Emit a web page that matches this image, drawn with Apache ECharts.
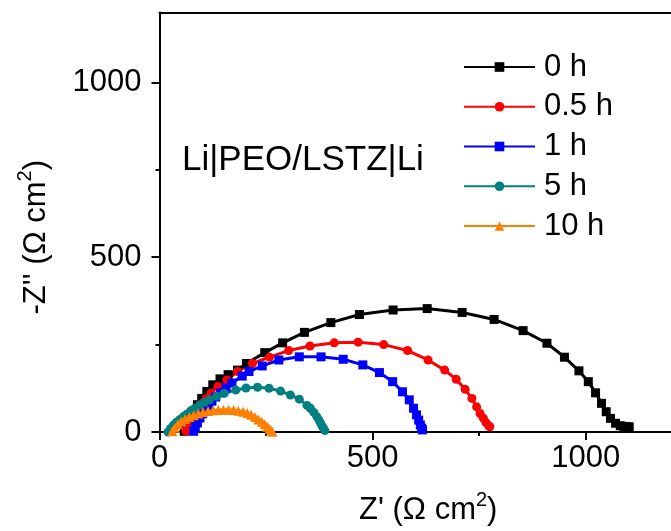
<!DOCTYPE html>
<html>
<head>
<meta charset="utf-8">
<script src="https://cdn.jsdelivr.net/npm/echarts@6/dist/echarts.min.js"></script>
<style>html,body{margin:0;padding:0;background:#fff;}#c{width:671px;height:531px;}</style>
</head>
<body>
<div id="c"></div>
<script>
const seriesNames = ['0 h', '0.5 h', '1 h', '5 h', '10 h'];
const h0 = [[58,2],[62,14],[67,28],[73,44],[80,60],[89,78],[99,96],[111,116],[125,135],[142,152],[161,164],[183,177],[204,196],[247,227],[289,255],[340,285],[402,313],[469,336],[548,349],[628,353],[710,342],[785,322],[853,290],[909,254],[950,214],[984,175],[1006,144],[1023,112],[1037,82],[1048,58],[1058,39],[1070,25],[1081,18],[1089,16],[1096,15],[1102,15]];
const h05 = [[62,2],[66,14],[71,26],[77,40],[84,54],[92,68],[100,82],[109,95],[121,111],[137,130],[158,149],[183,173],[218,196],[258,214],[303,233],[353,246],[410,255],[466,257],[526,250],[582,233],[630,206],[669,177],[696,151],[717,122],[733,96],[744,72],[752,53],[760,39],[766,27],[772,18],[775,15]];
const h1 = [[80,2],[84,14],[89,26],[95,40],[101,52],[108,65],[115,76],[123,88],[132,100],[143,112],[156,126],[170,140],[194,160],[210,173],[241,189],[280,206],[328,215],[379,215],[431,208],[477,192],[516,170],[547,144],[570,115],[586,92],[596,68],[603,49],[608,34],[612,20],[615,11],[617,6]];
const h5 = [[20,0],[26,10],[33,20],[40,28],[48,36],[56,44],[64,51],[73,60],[83,68],[94,77],[106,85],[117,92],[134,102],[152,111],[179,120],[203,126],[230,128],[257,125],[284,117],[307,106],[328,94],[346,76],[354,68],[362,56],[369,44],[374,34],[378,25],[382,16],[385,10],[388,4]];
const h10 = [[30,2],[36,12],[43,22],[51,30],[60,37],[70,43],[80,48],[91,53],[102,57],[114,60],[126,62],[138,63],[150,64],[162,64],[174,63],[185,61],[196,58],[206,54],[215,49],[224,43],[232,36],[240,29],[247,22],[253,15],[258,9],[262,4],[265,1]];
const xTicks = [0, 500, 1000];
const yTicks = [0, 500, 1000];
const annotation = 'Li|PEO/LSTZ|Li';
const xTitle = "Z' (Ω cm{sup|2})";
const yTitle = "-Z'' (Ω cm{sup|2})";

const FONT = 'Liberation Sans, Arial, sans-serif';
const FS = 31;
const colors = ['#000000', '#ff0000', '#0000ff', '#008080', '#ff8000'];
const symbols = ['rect', 'circle', 'rect', 'circle', 'triangle'];
const datas = [h0, h05, h1, h5, h10];

const richSup = {sup: {fontSize: 20, lineHeight: 14, verticalAlign: 'bottom', padding: [0, 0, 16, 0], color: '#000', fontFamily: FONT}};

const axisCommon = {
  type: 'value', min: 0, max: 1200, interval: 500,
  splitLine: {show: false},
  axisLine: {show: true, onZero: false, lineStyle: {color: '#000', width: 2}},
  axisTick: {show: true, inside: false, length: 8, lineStyle: {color: '#000', width: 2}},
  minorTick: {show: true, splitNumber: 2, length: 4, lineStyle: {color: '#000', width: 2}},
  nameLocation: 'middle'
};

const chart = echarts.init(document.getElementById('c'), null, {renderer: 'canvas'});
chart.setOption({
  animation: false,
  backgroundColor: '#fff',
  grid: {left: 159.5, right: -5, top: 12.5, bottom: 99, containLabel: false},
  xAxis: [
    Object.assign({}, axisCommon, {
      position: 'bottom',
      axisTick: Object.assign({}, axisCommon.axisTick, {customValues: xTicks}),
      axisLabel: {customValues: xTicks, color: '#000', fontSize: FS, fontFamily: FONT, margin: 11,
        formatter: v => (v % 500 === 0 ? String(v) : '')},
      name: xTitle, nameGap: 63,
      nameTextStyle: {color: '#000', fontSize: FS, fontFamily: FONT, padding: [0, 0, 0, 26], rich: richSup}
    }),
    {type: 'value', min: 0, max: 1200, position: 'top',
      axisLine: {show: true, onZero: false, lineStyle: {color: '#000', width: 2}},
      axisTick: {show: false}, axisLabel: {show: false}, splitLine: {show: false}}
  ],
  yAxis: [
    Object.assign({}, axisCommon, {
      position: 'left',
      axisTick: Object.assign({}, axisCommon.axisTick, {customValues: yTicks}),
      axisLabel: {customValues: yTicks, color: '#000', fontSize: FS, fontFamily: FONT, margin: 18,
        formatter: v => (v % 500 === 0 ? String(v) : '')},
      name: yTitle, nameGap: 108,
      nameTextStyle: {color: '#000', fontSize: FS, fontFamily: FONT, padding: [0, 30, 0, 0], rich: richSup}
    })
  ],
  legend: {
    orient: 'vertical', left: 463, top: 51.5, padding: 0,
    itemWidth: 71, itemHeight: 12, itemGap: 8.75,
    data: seriesNames,
    textStyle: {color: '#000', fontSize: FS, fontFamily: FONT, padding: [0, 0, 0, 4]}
  },
  graphic: [{
    type: 'text', left: 182, top: 143,
    style: {text: annotation, fill: '#000', fontSize: 35, fontFamily: FONT}
  }],
  series: datas.map((d, i) => ({
    name: seriesNames[i], type: 'line', xAxisIndex: 0, yAxisIndex: 0,
    data: d, symbol: symbols[i], symbolSize: i === 4 ? 10 : 9, showSymbol: true,
    color: colors[i],
    lineStyle: {color: colors[i], width: 3},
    itemStyle: {color: colors[i]},
    emphasis: {disabled: true}
  }))
});
</script>
</body>
</html>
